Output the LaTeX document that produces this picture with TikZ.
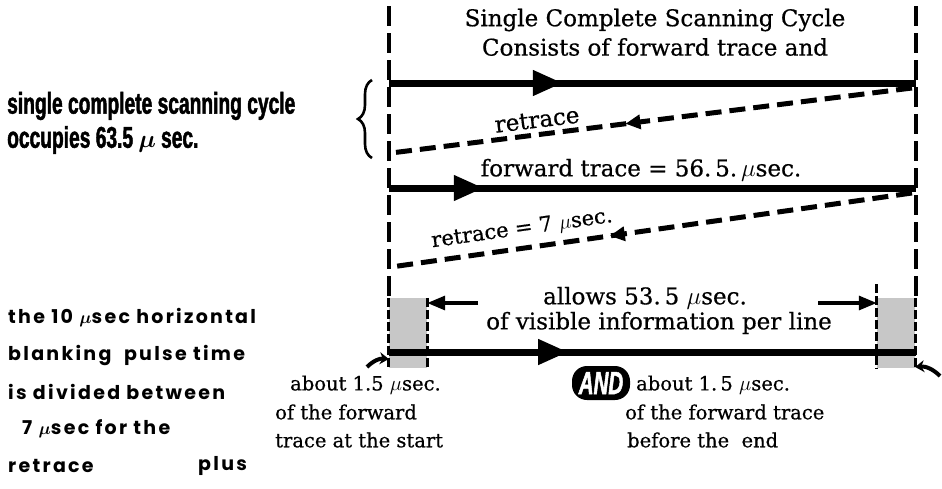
\documentclass[tikz,border=0pt]{standalone}
\usepackage{amsmath,amssymb}
\usepackage{fontspec}
\setmainfont[FakeBold=0.6]{DejaVu Serif}
\newfontfamily\gothfont[FakeStretch=0.64,FakeBold=1.5]{Liberation Sans}
\newfontfamily\geofont[LetterSpace=12]{Poppins}
\usepackage{tikz}
\usetikzlibrary{positioning,arrows.meta,calc,decorations.markings,decorations.pathreplacing}

\begin{document}
\begin{tikzpicture}[x=1pt,y=-1pt,
  guide/.style={line width=3.4pt,dash pattern=on 20pt off 7pt},
  edge/.style={line width=2.8pt,dash pattern=on 9pt off 3pt},
  fwd/.style={line width=7pt,postaction={decorate},
    decoration={markings,mark=at position #1 with {\arrow{Triangle[length=30pt,width=24pt]}}}},
  rtr/.style={line width=5pt,dash pattern=on 16pt off 8pt,postaction={decorate},
    decoration={markings,mark=at position #1 with {\arrow{Triangle[length=15pt,width=14pt]}}}},
  lbl/.style={inner sep=0pt,font=\fontsize{23}{26}\selectfont},
  sub/.style={inner sep=0pt,anchor=west,font=\fontsize{19.5}{22}\selectfont},
  goth/.style={inner sep=0pt,anchor=west,font=\gothfont\bfseries\fontsize{30}{32}\selectfont},
  geo/.style={inner sep=0pt,anchor=west,font=\geofont\bfseries\fontsize{19}{21}\selectfont},
  blank/.style={fill=black!22,minimum width=38pt,minimum height=70pt,inner sep=0pt},
  hint/.style={-{Triangle[length=18pt,width=14pt]},line width=3.2pt},
  nudge/.style={-{Stealth[length=9pt,width=12pt]},line width=4pt},
]
\useasboundingbox (0,0) rectangle (942,488);

% scanning cycle bounds
\node[blank] (lbox) at (408,333) {};
\node[blank] (rbox) at (896,333) {};
\coordinate (top l) at (389,6);
\coordinate (top r) at (916,6);
\draw[guide] (top l) -- (top l |- lbox.north);
\draw[guide] (top r) -- (top r |- rbox.north);
\draw[edge] (lbox.north west) -- (lbox.south west);
\draw[edge] (lbox.north east) -- (lbox.south east);
\draw[edge] (rbox.north east) -- (rbox.south east);
\draw[edge] (rbox.west |- 0,284) -- (rbox.south west);

\node[lbl] (title1) at (655,20) {Single Complete Scanning Cycle};
\node[lbl] (title2) at (655,47) {Consists of forward trace and};

% first line
\coordinate (f1s) at (389,83);
\coordinate (f1e) at (916,83);
\coordinate (r1s) at (912,88);
\coordinate (r1e) at (391,153);
\draw[fwd=0.33] (f1s) -- (f1e);
\draw[rtr=0.55] (r1s) -- (r1e);
\node[lbl,rotate=7] (ret1) at (537,120) {retrace};

% second line
\coordinate (f2s) at (389,188);
\coordinate (f2e) at (916,188);
\coordinate (r2s) at (912,193);
\coordinate (r2e) at (391,267);
\node[lbl] (fwdlbl) at (641,170) {forward trace = 56.\,5.\,$\mu$sec.};
\draw[fwd=0.18] (f2s) -- (f2e);
\draw[rtr=0.58] (r2s) -- (r2e);
\node[lbl,rotate=8,font=\fontsize{21}{24}\selectfont] (ret2) at (522,229) {retrace = 7 $\mu$sec.};

% visible part
\coordinate (f3s) at (389,352);
\coordinate (f3e) at (916,352);
\draw[fwd=0.34] (f3s) -- (f3e);
\node[lbl] (vis1) at (645,298) {allows 53.\,5 $\mu$sec.};
\node[lbl] (vis2) at (659,323) {of visible information per line};
\coordinate (la) at (478,303);
\coordinate (ra) at (818,303);
\draw[hint] (la) -- (la -| lbox.east);
\draw[hint] (ra) -- (ra -| rbox.west);
\draw[nudge] (367,367) to[bend left=25] (lbox.west |- 0,359);
\draw[nudge] (940,376) to[bend right=25] (rbox.east |- 0,367);

% blanking parts
\node[sub] (st1) at (290,385) {about 1.5 $\mu$sec.};
\node[sub] (st2) at (275,412) {of the forward};
\node[sub] (st3) at (275,440) {trace at the start};
\node[fill=black,text=white,rounded corners=15pt,minimum width=58pt,minimum height=34pt,inner sep=0pt,
  font=\gothfont\bfseries\itshape\fontsize{32}{32}\selectfont] (and) at (601,383) {AND};
\node[sub] (en1) at (636,385) {about 1.\,5 $\mu$sec.};
\node[sub] (en2) at (625,412) {of the forward trace};
\node[sub] (en3) at (627,440) {before the \ end};

% left notes
\draw[line width=2.6pt,decorate,decoration={brace,amplitude=14pt}] (372,158) -- (372,80);
\node[goth] (cyc1) at (7,106) {single complete scanning cycle};
\node[goth] (cyc2) at (7,140) {occupies 63.5 $\boldsymbol{\mu}$\,sec.};
\node[geo] (note1) at (8,318) {the 10 $\boldsymbol{\mu}$sec horizontal};
\node[geo] (note2) at (8,355) {blanking \ pulse time};
\node[geo] (note3) at (8,392) {is divided between};
\node[geo] (note4) at (22,429) {7 $\boldsymbol{\mu}$sec for the};
\node[geo] (note5) at (8,466) {retrace};
\node[geo] (note6) at (198,466) {plus};
\end{tikzpicture}
\end{document}
